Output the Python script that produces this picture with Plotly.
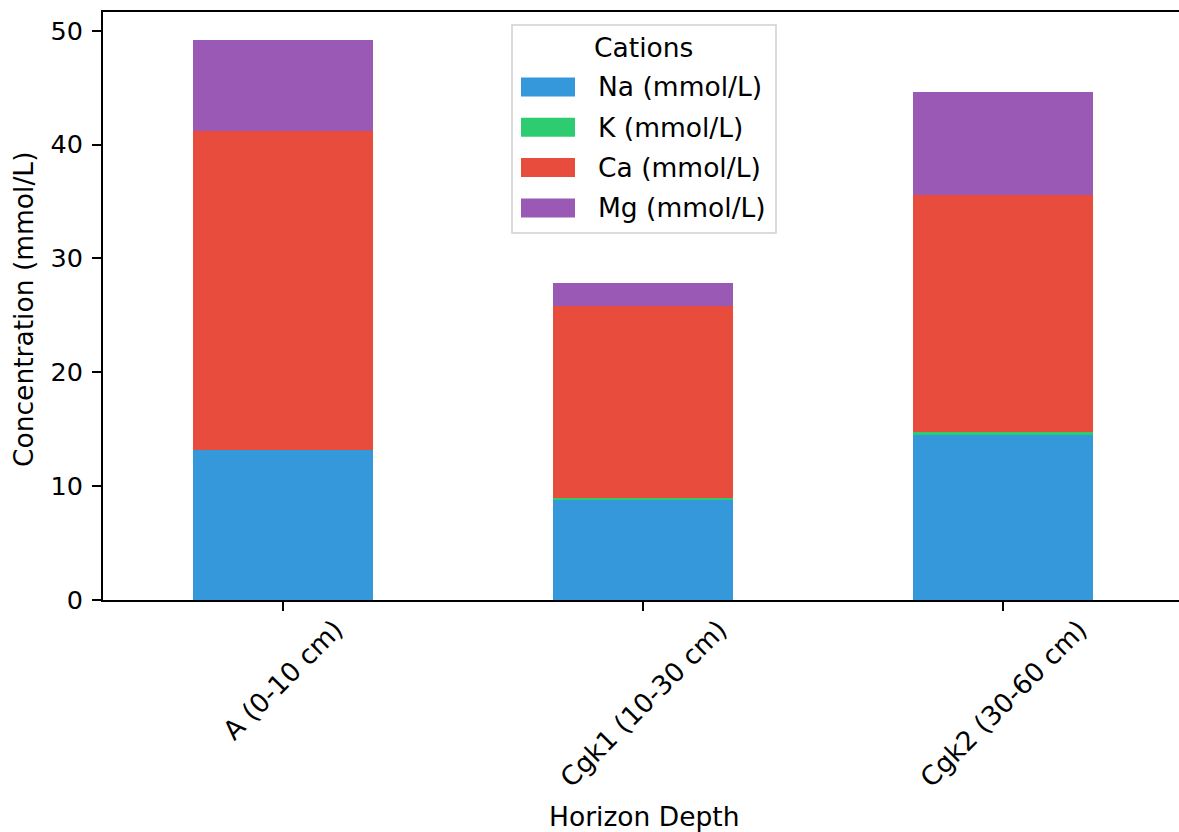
import plotly.graph_objects as go

# ---- data ----
categories = ["A (0-10 cm)", "Cgk1 (10-30 cm)", "Cgk2 (30-60 cm)"]
series_names = ["Na (mmol/L)", "K (mmol/L)", "Ca (mmol/L)", "Mg (mmol/L)"]
na_vals = [13.16, 8.75, 14.55]
k_vals = [0.0, 0.18, 0.17]
ca_vals = [28.04, 16.89, 20.87]
mg_vals = [7.98, 2.02, 9.06]
y_ticks = [0, 10, 20, 30, 40, 50]
x_title = "Horizon Depth"
y_title = "Concentration (mmol/L)"
legend_title = "Cations"

colors = ["#3498db", "#2ecc71", "#e74c3c", "#9b59b6"]
series_vals = [na_vals, k_vals, ca_vals, mg_vals]

FONT = "DejaVu Sans"
FS = 26.5
W, H = 1179, 832
L, R, T, B = 103, 0, 12, 232
PW, PH = W - L - R, H - T - B

fig = go.Figure()
for name, vals, col in zip(series_names, series_vals, colors):
    fig.add_trace(go.Bar(x=categories, y=vals, name=name, marker=dict(color=col, line=dict(width=0)),
                         width=0.5, showlegend=False))

totals = [sum(v) for v in zip(*series_vals)]
ymax = max(totals) * 1.05

fig.update_layout(
    width=W, height=H, barmode="stack",
    margin=dict(l=L, r=R, t=T, b=B, pad=0),
    paper_bgcolor="white", plot_bgcolor="white",
    font=dict(family=FONT, size=FS, color="black"),
    xaxis=dict(type="category", range=[-0.5, 2.5 - 4 / 360], showline=True, linecolor="black", linewidth=2,
               mirror=True, ticks="outside", ticklen=9, tickwidth=2, tickcolor="black",
               showticklabels=False, showgrid=False, zeroline=False),
    yaxis=dict(range=[0, ymax], showline=True, linecolor="black", linewidth=2, mirror=False,
               ticks="outside", ticklen=9, tickwidth=2, tickcolor="black",
               tickvals=y_ticks, ticktext=[str(t) for t in y_ticks],
               tickfont=dict(family=FONT, size=FS - 1, color="black"),
               ticklabelstandoff=4, showgrid=False, zeroline=False),
)

annotations = []
# rotated x tick labels (centered under ticks, like matplotlib rot=45)
for c in categories:
    annotations.append(dict(x=c, xref="x", y=0, yref="paper", text=c, showarrow=False, textangle=-45,
                            xanchor="center", yanchor="top", yshift=-11,
                            font=dict(family=FONT, size=FS, color="black")))
annotations.append(dict(x=(644 - L) / PW, xref="paper", y=(H - B - 816) / PH, yref="paper", text=x_title,
                        showarrow=False, xanchor="center", yanchor="middle",
                        font=dict(family=FONT, size=FS, color="black")))
annotations.append(dict(x=(23 - L) / PW, xref="paper", y=(H - B - 310) / PH, yref="paper", text=y_title,
                        textangle=-90, showarrow=False, xanchor="center", yanchor="middle",
                        font=dict(family=FONT, size=FS, color="black")))

# legend (matplotlib-style) drawn from series names/colors
def px(xp):
    return (xp - L) / PW

def py(yp):
    return (H - B - yp) / PH

shapes = [dict(type="rect", xref="paper", yref="paper", x0=px(512), x1=px(776), y0=py(233), y1=py(25),
               line=dict(color="#d0d0d0", width=1.5), fillcolor="rgba(255,255,255,0.8)", layer="above")]
annotations.append(dict(x=px(643), xref="paper", y=py(47), yref="paper", text=legend_title, showarrow=False,
                        xanchor="center", yanchor="middle", font=dict(family=FONT, size=FS, color="black")))
for i, (name, col) in enumerate(zip(series_names, colors)):
    cy = 87 + i * 40.3
    shapes.append(dict(type="rect", xref="paper", yref="paper", x0=px(521), x1=px(575),
                       y0=py(cy + 9.5), y1=py(cy - 9.5), line=dict(width=0), fillcolor=col, layer="above"))
    annotations.append(dict(x=px(596), xref="paper", y=py(cy), yref="paper", text=name, showarrow=False,
                            xanchor="left", yanchor="middle", font=dict(family=FONT, size=FS, color="black")))

fig.update_layout(shapes=shapes, annotations=annotations)
fig.write_html("out.html")
